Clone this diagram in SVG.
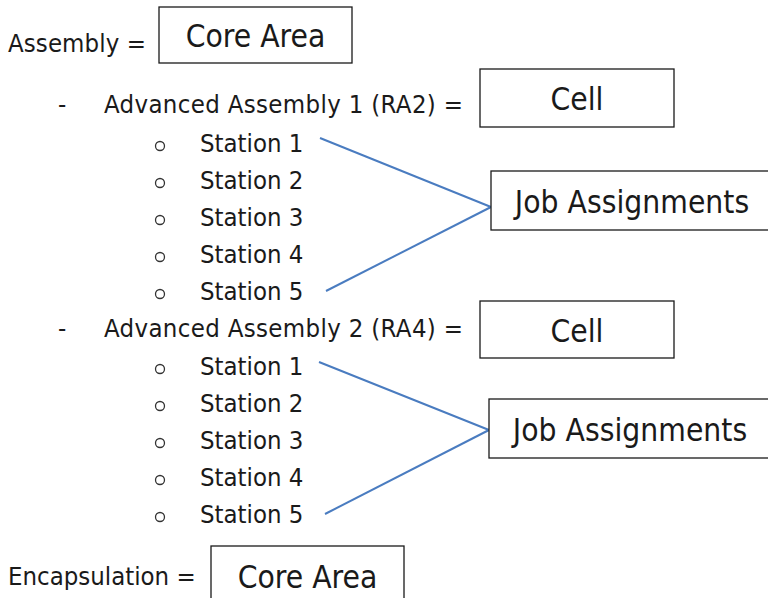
<svg xmlns="http://www.w3.org/2000/svg" width="768" height="598" viewBox="0 0 768 598">
<style>
text{font-family:"DejaVu Sans Condensed","DejaVu Sans",sans-serif;fill:#1a1a1a}
.t{font-size:25.5px}
.b{font-size:31.5px;text-anchor:middle}
.box{fill:#fff;stroke:#1a1a1a;stroke-width:1.3}
.ln{stroke:#4a7cc0;stroke-width:2;fill:none}
.bul{fill:none;stroke:#333;stroke-width:1.3}
</style>
<rect width="768" height="598" fill="#fff"/>
<g id="connectors">
<line class="ln" x1="320" y1="138" x2="491" y2="207"/>
<line class="ln" x1="326" y1="291" x2="491" y2="207"/>
<line class="ln" x1="319" y1="362" x2="489" y2="430"/>
<line class="ln" x1="325" y1="514" x2="489" y2="430"/>
</g>
<g id="assembly">
<text class="t" x="8" y="52" textLength="138">Assembly =</text>
</g>
<g id="core-area-1">
<rect class="box" x="159" y="7" width="193" height="56"/>
<text class="b" x="255.5" y="47">Core Area</text>
</g>
<g id="adv-assembly-1">
<text class="t" x="58" y="113">-</text>
<text class="t" x="104" y="113" textLength="359">Advanced Assembly 1 (RA2) =</text>
</g>
<g id="cell-1">
<rect class="box" x="480" y="69" width="194" height="58"/>
<text class="b" x="577" y="110">Cell</text>
</g>
<g id="stations-1">
<circle class="bul" cx="160" cy="146" r="4.5"/><text class="t" x="200" y="152">Station 1</text>
<circle class="bul" cx="160" cy="183" r="4.5"/><text class="t" x="200" y="189">Station 2</text>
<circle class="bul" cx="160" cy="220" r="4.5"/><text class="t" x="200" y="226">Station 3</text>
<circle class="bul" cx="160" cy="257" r="4.5"/><text class="t" x="200" y="263">Station 4</text>
<circle class="bul" cx="160" cy="294" r="4.5"/><text class="t" x="200" y="300">Station 5</text>
</g>
<g id="job-assignments-1">
<rect class="box" x="491" y="171" width="285" height="59"/>
<text class="b" x="632" y="213">Job Assignments</text>
</g>
<g id="adv-assembly-2">
<text class="t" x="58" y="337">-</text>
<text class="t" x="104" y="337" textLength="359">Advanced Assembly 2 (RA4) =</text>
</g>
<g id="cell-2">
<rect class="box" x="480" y="301" width="194" height="57"/>
<text class="b" x="577" y="342">Cell</text>
</g>
<g id="stations-2">
<circle class="bul" cx="160" cy="369" r="4.5"/><text class="t" x="200" y="375">Station 1</text>
<circle class="bul" cx="160" cy="406" r="4.5"/><text class="t" x="200" y="412">Station 2</text>
<circle class="bul" cx="160" cy="443" r="4.5"/><text class="t" x="200" y="449">Station 3</text>
<circle class="bul" cx="160" cy="480" r="4.5"/><text class="t" x="200" y="486">Station 4</text>
<circle class="bul" cx="160" cy="517" r="4.5"/><text class="t" x="200" y="523">Station 5</text>
</g>
<g id="job-assignments-2">
<rect class="box" x="489" y="399" width="287" height="59"/>
<text class="b" x="630" y="441">Job Assignments</text>
</g>
<g id="encapsulation">
<text class="t" x="8" y="585">Encapsulation =</text>
</g>
<g id="core-area-2">
<rect class="box" x="211" y="546" width="193" height="60"/>
<text class="b" x="307.5" y="588">Core Area</text>
</g>
</svg>
